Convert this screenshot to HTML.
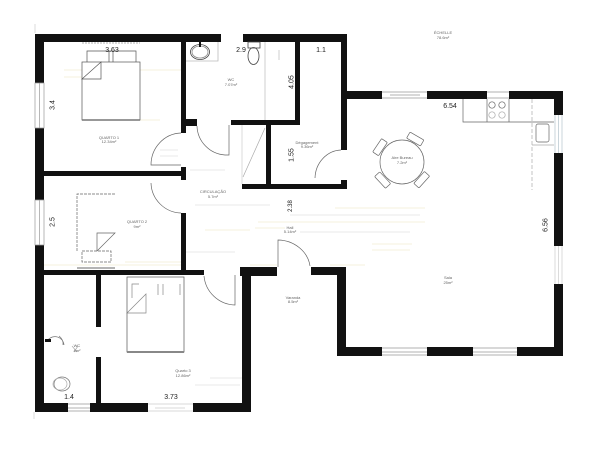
<!DOCTYPE html>
<html><head><meta charset="utf-8">
<style>
html,body{margin:0;padding:0;background:#fff;width:601px;height:462px;overflow:hidden}
svg{display:block;position:absolute;left:0;top:0;filter:blur(0.35px)}
text{font-family:"Liberation Sans",sans-serif;fill:#222}
.d{font-size:7px;text-anchor:middle;fill:#222}
.s{font-size:4px;text-anchor:middle;fill:#666}
</style></head><body>
<svg width="601" height="462" viewBox="0 0 601 462">
<rect width="601" height="462" fill="#fff"/>
<!-- faint hall shading / yellow dashes -->
<g stroke="#f5f0dc" stroke-width="1" fill="none">
<path d="M64 70H82M64 77H82M140 70H181M140 120H160M44 265H181M125 262H181M205 230H250M258 222H330M255 228H285M330 222H425M335 208H425M370 222H425M372 244H412M372 250H410M330 265H365M250 265H277"/>
</g>
<g stroke="#f4f4f4" stroke-width="2" fill="none">
<path d="M160 150H178M160 156H178M190 170H225M195 205H270M290 215H420M300 232H410M186 252H235M210 378H242M195 385H240"/>
</g>
<!-- walls -->
<g fill="#111">
<rect x="35" y="34" width="186" height="8"/>
<rect x="243" y="34" width="104" height="8"/>
<rect x="35" y="34" width="9" height="49"/>
<rect x="35" y="128" width="9" height="72"/>
<rect x="35" y="245" width="9" height="167"/>
<rect x="181" y="42" width="5" height="91"/>
<rect x="181" y="119" width="16" height="7"/>
<rect x="295" y="42" width="5" height="83"/>
<rect x="231" y="120" width="69" height="5"/>
<rect x="266" y="125" width="5" height="60"/>
<rect x="242" y="184" width="105" height="5"/>
<rect x="341" y="34" width="6" height="116"/>
<rect x="341" y="180" width="6" height="9"/>
<rect x="347" y="91" width="35" height="8"/>
<rect x="427" y="91" width="60" height="8"/>
<rect x="509" y="91" width="54" height="8"/>
<rect x="554" y="91" width="9" height="24"/>
<rect x="554" y="153" width="9" height="93"/>
<rect x="554" y="284" width="9" height="72"/>
<rect x="337" y="267" width="9" height="89"/>
<rect x="337" y="347" width="45" height="9"/>
<rect x="427" y="347" width="46" height="9"/>
<rect x="517" y="347" width="46" height="9"/>
<rect x="311" y="267" width="35" height="8"/>
<rect x="240" y="267" width="37" height="9"/>
<rect x="242" y="267" width="9" height="145"/>
<rect x="44" y="171" width="142" height="5"/>
<rect x="181" y="167" width="5" height="13"/>
<rect x="181" y="213" width="5" height="57"/>
<rect x="44" y="270" width="160" height="5"/>
<rect x="96" y="275" width="5" height="52"/>
<rect x="96" y="357" width="5" height="46"/>
<rect x="35" y="403" width="33" height="9"/>
<rect x="90" y="403" width="58" height="9"/>
<rect x="193" y="403" width="57" height="9"/>
</g>
<!-- windows -->
<g stroke="#999" stroke-width="0.7" fill="none">
<path d="M35 83H44V128H35ZM39.500 83V128"/>
<path d="M35 200H44V245H35ZM39.500 200V245"/>
<path d="M382 92H427M382 98H427M390 95H420"/>
<path d="M487 92H509M487 98H509"/>
<path d="M555 115V153M562 115V153M558.500 115V153" stroke="#b5c4cc"/>
<path d="M555 246V284M562 246V284M558.500 246V284" stroke="#ccc"/>
<path d="M382 348H427M382 352H427M382 355H427"/>
<path d="M473 348H517M473 352H517M473 355H517"/>
<path d="M68 404H90M68 408H90M68 411H90"/>
<path d="M148 404H193M155 408H185M148 411H193" stroke="#ccc"/>
<path d="M35 24V33M34 412V419" stroke="#ccc"/>
</g>
<!-- doors -->
<g stroke="#666" stroke-width="0.7" fill="none">
<path d="M181 165H151A31 32 0 0 1 181 133"/>
<path d="M151 183A31 31 0 0 0 181 213"/>
<path d="M229 125V155H225A30 30 0 0 1 197 126"/>
<path d="M315 178A27 29 0 0 1 341 150"/>
<path d="M235 275V305A32 32 0 0 1 204 276"/>
<path d="M278 267V240A33 30 0 0 1 310 266"/>
<path d="M243 177L265 128" stroke="#aaa"/>
<path d="M265 42V120" stroke="#bbb"/>
<path d="M242 125V184" stroke="#ccc"/>
<path d="M279 60V50" stroke="#bbb"/>
</g>
<!-- wc -->
<g stroke="#444" stroke-width="0.8" fill="none">
<ellipse cx="200" cy="52" rx="9.500" ry="7.500"/>
<ellipse cx="200" cy="52" rx="8" ry="6" stroke="#888"/>
<path d="M200 42V47" stroke="#111" stroke-width="2"/>
<path d="M186 61H218V42" stroke="#bbb"/>
<rect x="248" y="42" width="12" height="6"/>
<ellipse cx="253.500" cy="56" rx="5.500" ry="8.500"/>
</g>
<!-- bed 1 -->
<g stroke="#555" stroke-width="0.7" fill="none">
<path d="M82 43H140" stroke="#999" stroke-dasharray="2 1"/>
<rect x="82" y="62" width="58" height="58"/>
<path d="M82 120H140" stroke="#777" stroke-width="1.500"/>
<path d="M87 62V51H136V62M109 51V62M113 51V62"/>
<path d="M82 79H101V62L82 79Z"/>
</g>
<!-- bed 2 -->
<g stroke="#666" stroke-width="0.7" fill="none">
<path d="M115 194H77V251" stroke-dasharray="3 1"/>
<path d="M77 268H115" stroke-width="1.300" stroke="#888"/>
<path d="M97 251V233H115L97 251"/>
<path d="M82 251H111V262H82Z" stroke-dasharray="3 1"/>
</g>
<!-- bed 3 -->
<g stroke="#555" stroke-width="0.7" fill="none">
<rect x="127" y="277" width="57" height="75"/>
<path d="M127 352H184" stroke="#888" stroke-width="2"/>
<path d="M132 298V284H139M158 284V295M163 284V295M180 284V295" stroke="#888"/>
<path d="M127 313L146 294H146V313H127Z" stroke="#888"/>
</g>
<!-- room 4 fixtures -->
<g stroke="#777" stroke-width="0.7" fill="none">
<path d="M48 340A9 9 0 0 1 64 345M59 336A10 10 0 0 1 63 345"/>
<rect x="45" y="339" width="6" height="3" fill="#111" stroke="none"/>
<ellipse cx="62" cy="384" rx="8" ry="7"/>
<ellipse cx="60" cy="384" rx="7" ry="6" stroke="#aaa"/>
<path d="M72 346L77 352M78 346L74 352" stroke="#aaa"/>
</g>
<!-- kitchen -->
<g stroke="#666" stroke-width="0.7" fill="none">
<path d="M463 99V122H554"/>
<path d="M487 99V122M509 99V122"/>
<circle cx="492" cy="105" r="3.200"/><circle cx="502" cy="105" r="3.200"/>
<circle cx="492" cy="115" r="3.200" stroke="#aaa"/><circle cx="502" cy="115" r="3.200" stroke="#aaa"/>
<rect x="536" y="124" width="13" height="18" rx="2"/>
<path d="M532 99V190" stroke-dasharray="4 2" stroke="#aaa"/>
<path d="M532 145H554" stroke="#aaa"/>
<circle cx="402" cy="162" r="22"/>
<g transform="rotate(-56 402 162)"><rect x="394" y="132" width="16" height="7" rx="1"/></g>
<g transform="rotate(30 402 162)"><rect x="394" y="132" width="16" height="7" rx="1"/></g>
<g transform="rotate(132 402 162)"><rect x="394" y="132" width="16" height="7" rx="1"/></g>
<g transform="rotate(-133 402 162)"><rect x="394" y="132" width="16" height="7" rx="1"/></g>
</g>
<!-- dimensions -->
<text class="d" x="112" y="52">3.63</text>
<text class="d" x="241" y="52">2.9</text>
<text class="d" x="321" y="52">1.1</text>
<text class="d" x="450" y="108">6.54</text>
<text class="d" x="69" y="399">1.4</text>
<text class="d" x="171" y="399">3.73</text>
<text class="d" transform="translate(54.500 105) rotate(-90)">3.4</text>
<text class="d" transform="translate(54.500 222) rotate(-90)">2.5</text>
<text class="d" transform="translate(293.500 82) rotate(-90)">4.05</text>
<text class="d" transform="translate(293.500 155) rotate(-90)">1.55</text>
<text class="d" transform="translate(547.500 225) rotate(-90)">6.56</text>
<text class="d" style="font-size:6px" transform="translate(292 206) rotate(-90)">2.38</text>
<!-- room labels -->
<text class="s" x="109" y="139">QUARTO 1</text><text class="s" x="109" y="143">12.34m²</text>
<text class="s" x="231" y="81">WC</text><text class="s" x="231" y="86">7.07m²</text>
<text class="s" x="307" y="144">Dégagement</text><text class="s" x="307" y="148">9.36m²</text>
<text class="s" x="402" y="159">Aire Bureau</text><text class="s" x="402" y="164">7.2m²</text>
<text class="s" x="443" y="34">ÉCHELLE</text><text class="s" x="443" y="39">78.6m²</text>
<text class="s" x="137" y="223">QUARTO 2</text><text class="s" x="137" y="228">9m²</text>
<text class="s" x="213" y="193">CIRCULAÇÃO</text><text class="s" x="213" y="198">5.7m²</text>
<text class="s" x="290" y="229">Hall</text><text class="s" x="290" y="233">5.14m²</text>
<text class="s" x="293" y="299">Varanda</text><text class="s" x="293" y="303">8.5m²</text>
<text class="s" x="448" y="279">Sala</text><text class="s" x="448" y="284">25m²</text>
<text class="s" x="183" y="372">Quarto 3</text><text class="s" x="183" y="377">12.86m²</text>
<text class="s" x="77" y="347">WC</text><text class="s" x="77" y="352">4m²</text>
</svg>
</body></html>
